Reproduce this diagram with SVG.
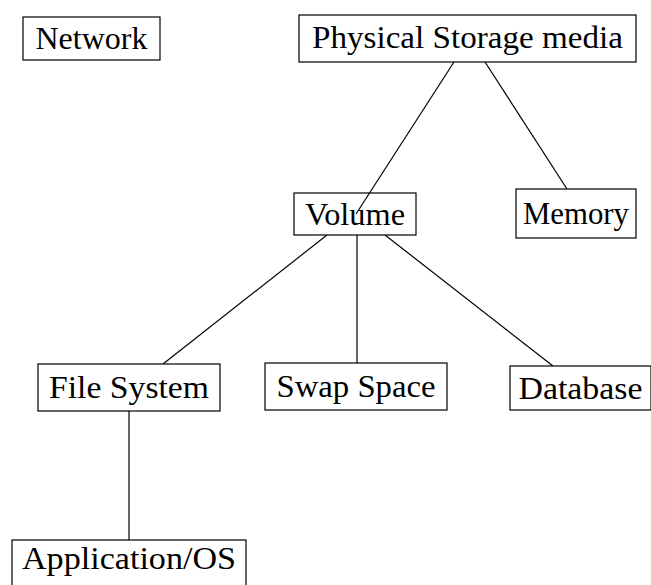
<svg xmlns="http://www.w3.org/2000/svg" width="651" height="585" viewBox="0 0 651 585">
  <style>
    .box { fill: #ffffff; stroke: #000000; stroke-width: 1.2; }
    .lbl { font-family: "Liberation Serif", "DejaVu Serif", serif; font-size: 31px; fill: #000000; text-anchor: middle; }
    .edge { stroke: #000000; stroke-width: 1.2; fill: none; }
  </style>
  <rect width="651" height="585" fill="#ffffff"/>

  <g id="connectors">
    <line class="edge" x1="163" y1="364" x2="327" y2="235"/>
    <line class="edge" x1="357" y1="363" x2="357" y2="235"/>
    <line class="edge" x1="553" y1="366" x2="385" y2="235"/>
    <line class="edge" x1="129" y1="411" x2="129" y2="540"/>
    <line class="edge" x1="485" y1="62" x2="567" y2="189"/>
  </g>

  <g id="network">
    <rect class="box" x="23" y="17" width="137" height="43"/>
    <text class="lbl" x="91.5" y="49" textLength="112" lengthAdjust="spacingAndGlyphs">Network</text>
  </g>
  <g id="physical-storage">
    <rect class="box" x="299" y="15" width="337" height="47"/>
    <text class="lbl" x="467.5" y="48" textLength="311" lengthAdjust="spacingAndGlyphs">Physical Storage media</text>
  </g>
  <g id="volume">
    <rect class="box" x="294" y="193" width="122" height="42"/>
    <text class="lbl" x="355" y="225" textLength="100" lengthAdjust="spacingAndGlyphs">Volume</text>
  </g>
  <g id="memory">
    <rect class="box" x="516" y="189" width="120" height="49"/>
    <text class="lbl" x="576" y="224" textLength="106" lengthAdjust="spacingAndGlyphs">Memory</text>
  </g>
  <g id="file-system">
    <rect class="box" x="38" y="364" width="182" height="47"/>
    <text class="lbl" x="129" y="398" textLength="160" lengthAdjust="spacingAndGlyphs">File System</text>
  </g>
  <g id="swap-space">
    <rect class="box" x="265" y="363" width="182" height="47"/>
    <text class="lbl" x="356" y="397" textLength="159" lengthAdjust="spacingAndGlyphs">Swap Space</text>
  </g>
  <g id="database">
    <rect class="box" x="510" y="366" width="141" height="44"/>
    <text class="lbl" x="580.5" y="399" textLength="124" lengthAdjust="spacingAndGlyphs">Database</text>
  </g>
  <g id="application-os">
    <rect class="box" x="12" y="540" width="234" height="60"/>
    <text class="lbl" x="129" y="569" textLength="214" lengthAdjust="spacingAndGlyphs">Application/OS</text>
  </g>

  <!-- this edge is drawn over the Volume box and ends inside its label -->
  <line class="edge" x1="454" y1="62" x2="356" y2="214"/>
</svg>
